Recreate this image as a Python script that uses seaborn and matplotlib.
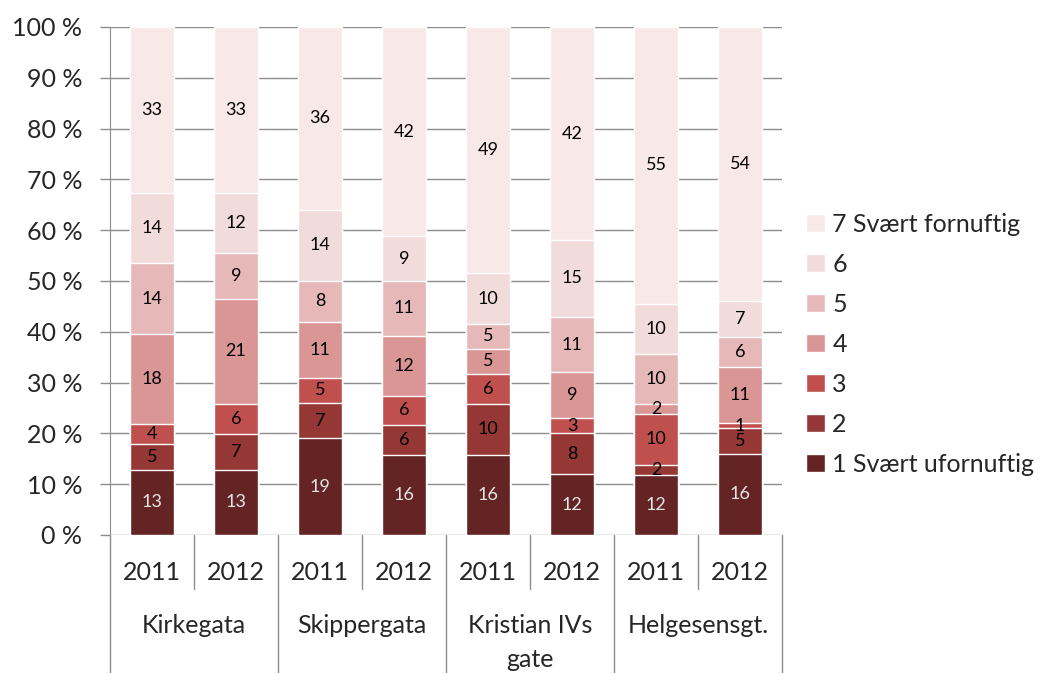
import numpy as np
import pandas as pd
import matplotlib
matplotlib.use("Agg")
import matplotlib.pyplot as plt
import seaborn as sns

# --- Data ---
streets = ['Kirkegata', 'Skippergata', 'Kristian IVs\ngate', 'Helgesensgt.']
years = ['2011', '2012']
levels = ['1 Svært ufornuftig', '2', '3', '4', '5', '6', '7 Svært fornuftig']
level1 = [13, 13, 19, 16, 16, 12, 12, 16]
level2 = [5, 7, 7, 6, 10, 8, 2, 5]
level3 = [4, 6, 5, 6, 6, 3, 10, 1]
level4 = [18, 21, 11, 12, 5, 9, 2, 11]
level5 = [14, 9, 8, 11, 5, 11, 10, 6]
level6 = [14, 12, 14, 9, 10, 15, 10, 7]
level7 = [33, 33, 36, 42, 49, 42, 55, 54]
colors = ['#632423', '#953735', '#c0504d', '#d99694', '#e6b9b8', '#f2dcdb', '#f8e8e8']

values = np.array([level1, level2, level3, level4, level5, level6, level7], dtype=float)
bars = [f"{s}|{y}" for s in streets for y in years]
pct = values / values.sum(axis=0) * 100
cum = pct.cumsum(axis=0)

sns.set_style("white")
plt.rcParams['font.family'] = ['Lato', 'DejaVu Sans']

fig = plt.figure(figsize=(10.43, 6.73), dpi=100)
ax = fig.add_axes([110 / 1043, 1 - 535 / 673, 672 / 1043, 508 / 673])

# stacked bars: draw cumulative totals from top level down
for k in range(6, -1, -1):
    df = pd.DataFrame({'bar': bars, 'cum': cum[k]})
    sns.barplot(data=df, x='bar', y='cum', order=bars, color=colors[k],
                saturation=1, width=0.52, label=levels[k], ax=ax, zorder=3)

# data labels
for k in range(7):
    for i in range(len(bars)):
        yc = cum[k, i] - pct[k, i] / 2
        ax.text(i, yc, f"{int(values[k, i])}", ha='center', va='center',
                fontsize=13, color='#e6e6e6' if k == 0 else 'black', zorder=4)

ax.set_xlim(-0.5, 7.5)
ax.set_ylim(0, 100)
ax.set_yticks(range(0, 101, 10))
ax.set_yticklabels([f"{v} %" for v in range(0, 101, 10)], fontsize=18)
ax.yaxis.grid(True, color='#8c8c8c', linewidth=1, zorder=0)
ax.set_axisbelow(True)
ax.tick_params(axis='y', length=7, width=1, color='#8c8c8c', pad=13, left=True)
ax.set_xticks([])
ax.set_xlabel('')
ax.set_ylabel('')
for side in ['top', 'right', 'bottom']:
    ax.spines[side].set_visible(False)
ax.spines['left'].set_color('#8c8c8c')

# category axis below the plot
tr = ax.get_xaxis_transform()
for i in range(len(bars)):
    ax.text(i, -0.073, years[i % 2], transform=tr, ha='center', va='center', fontsize=18)
for g, s in enumerate(streets):
    ax.text(2 * g + 0.5, -0.155, s, transform=tr, ha='center', va='top',
            fontsize=18, linespacing=1.6)
for g in range(5):
    ax.plot([2 * g - 0.5] * 2, [0, -0.28], transform=tr, color='#8c8c8c',
            linewidth=1, clip_on=False)
for g in range(4):
    ax.plot([2 * g + 0.5] * 2, [0, -0.106], transform=tr, color='#8c8c8c',
            linewidth=1, clip_on=False)

handles, labels = ax.get_legend_handles_labels()
ax.legend(handles, labels, loc='center left', bbox_to_anchor=(806 / 1043, 1 - 344 / 673),
          bbox_transform=fig.transFigure, frameon=False, fontsize=18,
          handlelength=0.75, handleheight=0.75, handletextpad=0.3,
          labelspacing=0.68, borderpad=0, borderaxespad=0)

fig.savefig('out.png', dpi=100)
